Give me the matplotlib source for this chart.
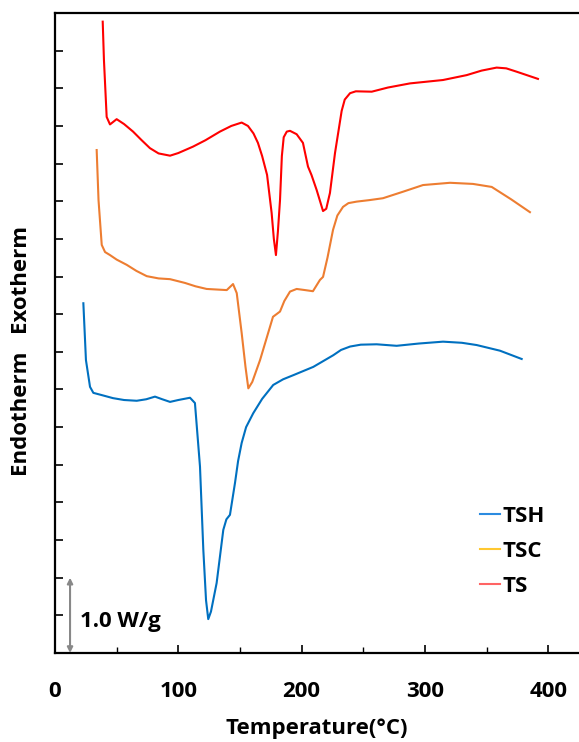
import numpy as np
import matplotlib
matplotlib.use('Agg')
import matplotlib.pyplot as plt
from matplotlib.lines import Line2D
from matplotlib.ticker import MultipleLocator

plt.rcParams['font.family'] = ['Open Sans', 'DejaVu Sans']
plt.rcParams['font.weight'] = 'bold'

# TS (red)
ts_T = [38.7, 39.7, 41.9, 44.6, 50.0, 56.0, 63.3, 70.0, 77.0, 84.0, 93.3, 100.0, 111.9, 122.0,
        133.8, 143.0, 151.4, 156.5, 161.0, 164.6, 168.0, 172.0, 175.7, 177.5, 179.2, 180.8,
        182.5, 184.0, 185.5, 188.0, 190.6, 196.0, 201.1, 205.2, 208.0, 212.2, 217.4, 220.0,
        223.0, 227.1, 232.5, 235.0, 239.3, 244.0, 256.9, 270.0, 287.9, 314.7, 333.9, 346.0,
        358.2, 366.0, 374.5, 391.7]
ts_y = [16.77, 15.75, 14.24, 14.04, 14.18, 14.05, 13.85, 13.63, 13.41, 13.27, 13.21, 13.28, 13.45,
        13.62, 13.85, 14.00, 14.09, 14.00, 13.80, 13.55, 13.20, 12.70, 11.69, 11.00, 10.57, 11.20,
        12.03, 13.20, 13.70, 13.85, 13.87, 13.78, 13.55, 12.92, 12.70, 12.30, 11.74, 11.80,
        12.22, 13.28, 14.40, 14.70, 14.87, 14.92, 14.91, 15.02, 15.13, 15.22, 15.35, 15.47,
        15.55, 15.53, 15.44, 15.25]

# TSC (orange)
tsc_T = [33.8, 35.3, 37.9, 40.6, 44.6, 50.0, 58.2, 66.0, 74.4, 84.0, 93.3, 105.4, 114.0, 123.0,
         139.3, 144.4, 147.4, 151.4, 154.5, 156.8, 160.0, 166.3, 176.8, 182.5, 186.0, 190.6,
         196.0, 202.8, 209.2, 214.9, 217.4, 221.0, 225.5, 229.0, 233.6, 238.0, 244.7, 255.0,
         266.0, 282.0, 298.5, 320.4, 339.0, 354.2, 370.0, 385.2]
tsc_y = [13.36, 12.03, 10.84, 10.65, 10.57, 10.45, 10.31, 10.15, 10.01, 9.95, 9.93, 9.83, 9.74, 9.67,
         9.64, 9.80, 9.56, 8.50, 7.60, 7.03, 7.20, 7.78, 8.93, 9.07, 9.35, 9.60,
         9.67, 9.64, 9.61, 9.91, 9.99, 10.50, 11.24, 11.62, 11.85, 11.95, 11.99, 12.03,
         12.08, 12.25, 12.43, 12.49, 12.46, 12.38, 12.05, 11.71]

# TSH (blue)
tsh_T = [23.0, 25.1, 28.4, 31.1, 38.0, 47.0, 56.0, 66.3, 74.0, 81.1, 87.0, 93.3, 100.0, 109.5,
         113.5, 117.6, 120.3, 122.5, 124.3, 126.5, 131.1, 136.5, 139.0, 141.9, 146.0, 148.5,
         151.4, 155.0, 160.8, 168.0, 177.0, 185.0, 193.3, 209.5, 225.7, 232.0, 239.3, 248.0,
         260.9, 277.1, 295.0, 314.7, 330.0, 342.0, 360.9, 378.5]
tsh_y = [9.29, 7.78, 7.07, 6.91, 6.85, 6.77, 6.72, 6.70, 6.74, 6.81, 6.74, 6.67, 6.72, 6.78,
         6.64, 4.95, 2.74, 1.40, 0.90, 1.10, 1.86, 3.27, 3.55, 3.67, 4.52, 5.10,
         5.58, 6.00, 6.37, 6.75, 7.12, 7.27, 7.38, 7.60, 7.91, 8.05, 8.14, 8.19,
         8.20, 8.16, 8.22, 8.27, 8.24, 8.18, 8.03, 7.81]

names = ['TSH', 'TSC', 'TS']
legend_colors = ['#2b8be0', '#ffc830', '#ff6464']

fig = plt.figure(figsize=(5.79, 7.42), dpi=100)
ax = fig.add_axes([55/579, 89/742, 1 - 55/579, 640/742])

ax.plot(ts_T, ts_y, color='#ff0000', lw=1.5)
ax.plot(tsc_T, tsc_y, color='#ed7d31', lw=1.5)
ax.plot(tsh_T, tsh_y, color='#0070c0', lw=1.5)

ax.set_xlim(0, 425)
ax.set_ylim(0, 17)
ax.xaxis.set_major_locator(MultipleLocator(100))
ax.xaxis.set_minor_locator(MultipleLocator(50))
ax.set_yticks(np.arange(1, 17))
ax.set_yticklabels([])
ax.tick_params(axis='x', which='major', direction='in', length=6, width=1.2,
               labelsize=16, pad=20)
ax.tick_params(axis='x', which='minor', direction='in', length=4, width=1)
ax.tick_params(axis='y', direction='in', length=6, width=1.2)
for lab in ax.get_xticklabels():
    lab.set_fontweight('bold')
for s in ['left', 'bottom', 'top']:
    ax.spines[s].set_linewidth(1.6)
ax.spines['right'].set_visible(False)

ax.set_xlabel('Temperature(°C)', fontsize=16, fontweight='bold', labelpad=12)

# scale bar
ax.annotate('', xy=(12.2, 0), xytext=(12.2, 2),
            arrowprops=dict(arrowstyle='<|-|>', color='#888888', lw=1.5,
                            mutation_scale=8, shrinkA=0, shrinkB=0))
ax.text(20, 0.85, '1.0 W/g', fontsize=16, fontweight='bold', va='center', ha='left')

fig.text(20/579, 1 - 278/742, 'Exotherm', rotation=90, fontsize=16,
         fontweight='bold', ha='center', va='center')
fig.text(20/579, 1 - 412/742, 'Endotherm', rotation=90, fontsize=16,
         fontweight='bold', ha='center', va='center')

handles = [Line2D([], [], color=c, lw=1.5) for c in legend_colors]
ax.legend(handles, names, loc='upper left', bbox_to_anchor=(460/579, 0.345),
          bbox_transform=fig.transFigure, frameon=False,
          handlelength=0.9, handletextpad=0.1, labelspacing=0.62,
          prop={'weight': 'bold', 'size': 16})

fig.savefig('out.png', dpi=100)
